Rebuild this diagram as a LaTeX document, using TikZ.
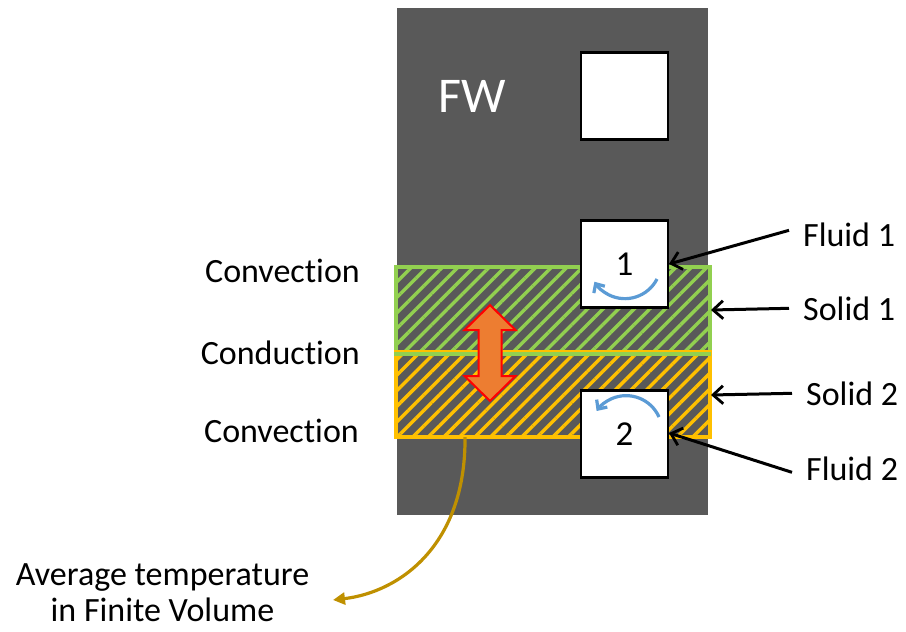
\documentclass[tikz,border=0pt]{standalone}
\usepackage{fontspec}
\setmainfont{Carlito}[Ligatures=NoCommon]
\usetikzlibrary{arrows.meta, patterns.meta, positioning}

\definecolor{wallgray}{HTML}{595959}
\definecolor{solidgreen}{HTML}{92D050}
\definecolor{solidorange}{HTML}{FFC000}
\definecolor{swirlblue}{HTML}{5B9BD5}
\definecolor{heatorange}{HTML}{ED7D31}
\definecolor{avgbrown}{HTML}{BF9000}

\begin{document}
\begin{tikzpicture}[
    x=1pt, y=-1pt,
    wall/.style={rectangle, fill=wallgray, minimum width=311pt, minimum height=507pt, inner sep=0pt},
    channel/.style={rectangle, draw=black, line width=2.6pt, fill=white, minimum size=87pt, inner sep=0pt, font=\fontsize{35}{40}\selectfont},
    solidband/.style={rectangle, line width=4pt, minimum width=314pt, minimum height=85pt, inner sep=0pt},
    lbl/.style={font=\fontsize{34}{36}\selectfont, inner sep=2pt},
    pointer/.style={-{Straight Barb[length=10pt, width=18pt, line width=2.8pt]}, line width=3pt},
    swirl/.style={-{Straight Barb[length=7pt, width=13pt]}, draw=swirlblue, line width=3.2pt},
    heatflow/.style={fill=heatorange, draw=red, line width=2pt, line join=miter}
]
\useasboundingbox (0,0) rectangle (906,632);

% wall and solids
\node (fw) [wall] at (552.5,261.5) {};
\node (fwlabel) [lbl, anchor=base, text=white, font=\fontsize{50}{60}\selectfont] at (472,112) {FW};
\node (solid1) [solidband, draw=solidgreen, pattern={Lines[angle=45, distance=11pt, line width=3.4pt]}, pattern color=solidgreen] at (552.5,309.5) {};
\node (solid2) [solidband, draw=solidorange, pattern={Lines[angle=45, distance=11pt, line width=3.4pt]}, pattern color=solidorange] at (552.5,394.5) {};
\draw [solidgreen, line width=4pt] (solid1.south west) -- (solid1.south east);

% channels
\node (ch0) [channel] at (624.5,96) {};
\node (ch1) [channel] at (624.5,264) {1};
\node (ch2) [channel] at (624.5,434) {2};
\draw [swirl] (657,279) arc[start angle=27, end angle=148, radius=36];
\draw [swirl] (659,417) arc[start angle=-24, end angle=-145, radius=36];

% heat flow between solids
\coordinate (heat) at (490,353);
\draw [heatflow] (heat) ++(0,-48) -- ++(25.5,25) -- ++(-14,0) -- ++(0,46) -- ++(14,0)
    -- ++(-25.5,25) -- ++(-25.5,-25) -- ++(14,0) -- ++(0,-46) -- ++(-14,0) -- cycle;

% left labels
\node (conv1) [lbl, anchor=base east] at (362,282) {Convection};
\node (cond) [lbl, anchor=base east] at (362,364) {Conduction};
\node (conv2) [lbl, anchor=base east] at (361,442) {Convection};

% right labels
\node (fluid1) [lbl, anchor=base west] at (801,246) {Fluid 1};
\node (sol1) [lbl, anchor=base west] at (801,320) {Solid 1};
\node (sol2) [lbl, anchor=base west] at (804,405) {Solid 2};
\node (fluid2) [lbl, anchor=base west] at (804,480) {Fluid 2};

\coordinate (f1tip) at (669,264);
\coordinate (s1tip) at (711,310);
\coordinate (s2tip) at (711,395);
\coordinate (f2tip) at (669,433);
\draw [pointer] ([xshift=-12pt, yshift=4pt]fluid1.west) -- (f1tip);
\draw [pointer] ([xshift=-12pt]sol1.west) -- (s1tip);
\draw [pointer] ([xshift=-12pt]sol2.west) -- (s2tip);
\draw [pointer] ([xshift=-12pt, yshift=-4pt]fluid2.west) -- (f2tip);

% average temperature
\node (avg) [lbl, align=center, anchor=base] at (162.5,621) {Average temperature\\in Finite Volume};
\coordinate (avgsrc) at (465,437);
\coordinate (avgtip) at (333,600);
\draw [-{Triangle[length=12pt, width=12pt]}, avgbrown, line width=3.2pt] (avgsrc) .. controls (466,545) and (400,592) .. (avgtip);

\end{tikzpicture}
\end{document}
